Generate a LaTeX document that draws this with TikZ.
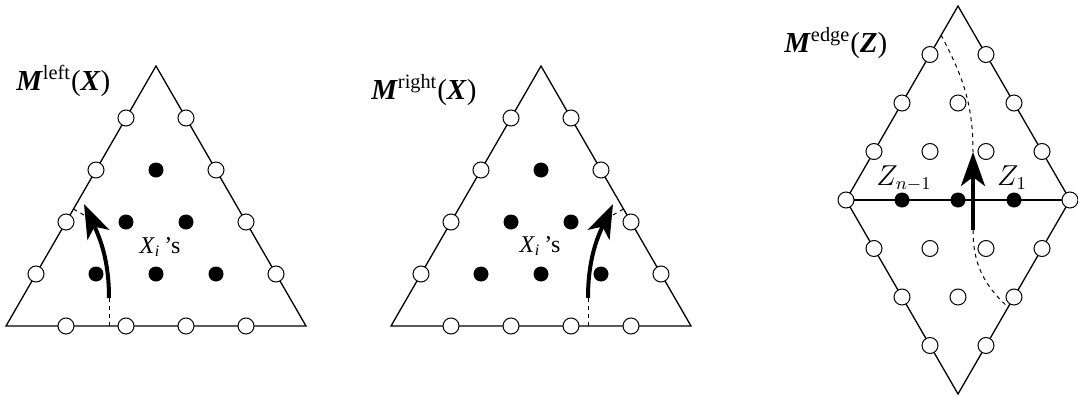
\documentclass[tikz,border=0pt]{standalone}
\usepackage{fontspec}
\setmainfont{Liberation Serif}
\usepackage{tikz}
\usetikzlibrary{arrows.meta}

\begin{document}
\begin{tikzpicture}[x=0.5pt, y=0.5pt,
  tri/.style={line width=0.65pt},
  opendot/.style={circle, draw, fill=white, inner sep=0pt, minimum size=8pt, line width=0.5pt},
  fulldot/.style={circle, fill=black, inner sep=0pt, minimum size=7.5pt},
  arr/.style={-{Stealth[length=17pt, width=12pt, inset=4.5pt]}, line width=2pt},
  guide/.style={dash pattern=on 2pt off 2pt, line width=0.5pt},
  lbl/.style={inner sep=0pt, font=\fontsize{14.5}{16}\selectfont},
  var/.style={inner sep=0pt, font=\fontsize{12}{14}\selectfont},
  zvar/.style={inner sep=0pt, font=\fontsize{13.5}{15}\selectfont}
]
\useasboundingbox (0,0) rectangle (1078,398);

% the two triangles, lattice n=5
\foreach \t/\dx in {l/6, r/391} {
  \begin{scope}[shift={(\dx,72)}]
    \coordinate (\t A) at (0,0);
    \coordinate (\t B) at (300,0);
    \coordinate (\t C) at (150,260);
    \draw[tri] (\t A) -- (\t B) -- (\t C) -- cycle;
    \foreach \k in {1,...,4} {
      \node[opendot] (\t-b\k) at (60*\k,0) {};
      \node[opendot] (\t-w\k) at (30*\k,52*\k) {};
      \node[opendot] (\t-e\k) at (300-30*\k,52*\k) {};
    }
    \foreach \i/\j in {1/1,2/1,3/1,1/2,2/2,1/3}
      \node[fulldot] (\t-x\i\j) at (60*\i+30*\j,52*\j) {};
  \end{scope}
}

% rhombus, lattice n=4
\begin{scope}[shift={(846,198)}]
  \coordinate (L) at (0,0);
  \coordinate (R) at (224,0);
  \coordinate (T) at (112,194);
  \coordinate (B) at (112,-194);
  \draw[tri] (L) -- (T) -- (R) -- (B) -- cycle;
  \draw[tri] (L) -- (R);
  \node[opendot] (eL) at (L) {};
  \node[opendot] (eR) at (R) {};
  \foreach \k in {1,...,3} {
    \node[opendot] (ul\k) at (28*\k,48.5*\k) {};
    \node[opendot] (ur\k) at (224-28*\k,48.5*\k) {};
    \node[opendot] (dl\k) at (28*\k,-48.5*\k) {};
    \node[opendot] (dr\k) at (224-28*\k,-48.5*\k) {};
    \node[fulldot] (m\k) at (56*\k,0) {};
  }
  \foreach \p/\x/\y in {u1/84/48.5, u2/140/48.5, u3/112/97,
                        d1/84/-48.5, d2/140/-48.5, d3/112/-97}
    \node[opendot] (\p) at (\x,\y) {};
  \coordinate (etop) at (95,165);
  \coordinate (etip) at (127,48);
  \coordinate (etail) at (127,-30);
  \coordinate (ebot) at (162,-107);
\end{scope}

% crossing curves
\coordinate (lfoot) at (109,72);
\coordinate (ltail) at (109,100);
\coordinate (ltip)  at (84,194);
\coordinate (lside) at (73.5,189);
\coordinate (lin)   at (84,183);
\draw[guide] (lfoot) -- (ltail);
\draw[guide] (lside) -- (lin);
\draw[arr] (ltail) to[out=90, in=-65] (ltip);

\coordinate (rfoot) at (588,72);
\coordinate (rtail) at (588,100);
\coordinate (rtip)  at (613,194);
\coordinate (rside) at (623.5,189);
\coordinate (rin)   at (613,183);
\draw[guide] (rfoot) -- (rtail);
\draw[guide] (rside) -- (rin);
\draw[arr] (rtail) to[out=90, in=-115] (rtip);

\draw[guide] (etop) to[out=-62, in=90] (etip);
\draw[guide] (etail) to[out=-90, in=138] (ebot);
\draw[arr] (etail) -- (etip);

% labels
\node[lbl, anchor=base west] (mleft) at (16,308)
  {\textbf{\textit{M}}\textsuperscript{left}(\textbf{\textit{X}})};
\node[lbl, anchor=base west] (mright) at (371,299)
  {\textbf{\textit{M}}\textsuperscript{right}(\textbf{\textit{X}})};
\node[lbl, anchor=base west] (medge) at (784,346)
  {\textbf{\textit{M}}\textsuperscript{edge}(\textbf{\textit{Z}})};
\node[var, anchor=base] (xl) at (160,145) {\textit{X}\textsubscript{\textit{i}}\,’s};
\node[var, anchor=base] (xr) at (540,146) {\textit{X}\textsubscript{\textit{i}}\,’s};
\node[zvar, anchor=base] (zn) at (904,213) {$Z_{n-1}$};
\node[zvar, anchor=base] (z1) at (1012,213) {$Z_1$};
\end{tikzpicture}
\end{document}
